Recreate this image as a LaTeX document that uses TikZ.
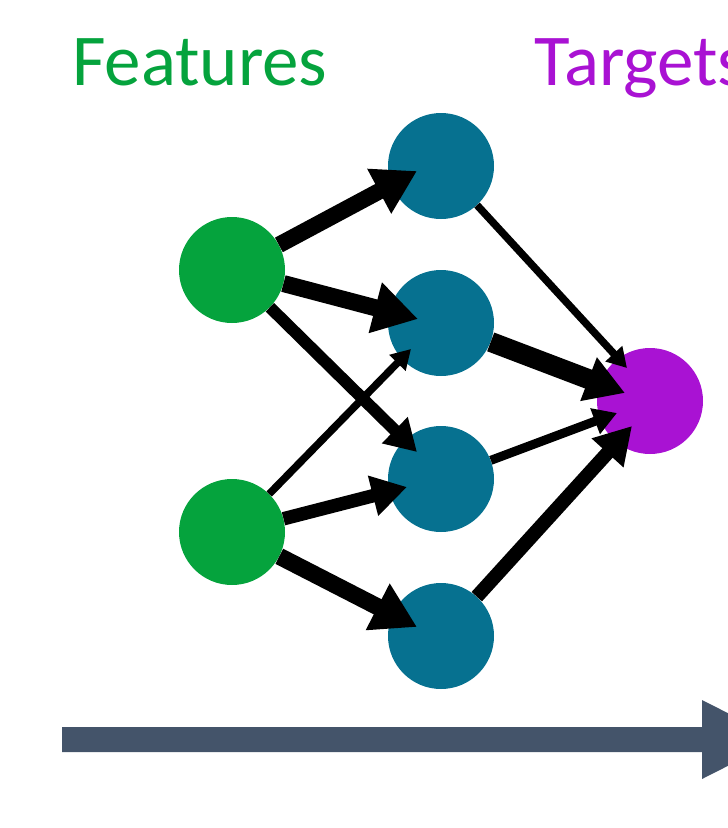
\documentclass[tikz,border=0pt]{standalone}
\usepackage{fontspec}
\setmainfont{Carlito}
\usetikzlibrary{arrows.meta}
\definecolor{featgreen}{HTML}{05A33D}
\definecolor{hidblue}{HTML}{067190}
\definecolor{targpurple}{HTML}{A912D3}
\definecolor{slate}{HTML}{44546A}
\begin{document}
\begin{tikzpicture}[x=1pt,y=-1pt,
  unit/.style={circle,draw=none,inner sep=0pt,minimum size=106pt},
  feat/.style={unit,fill=featgreen},
  hid/.style={unit,fill=hidblue},
  targ/.style={unit,fill=targpurple},
  wt/.style={line width=#1,-{Triangle[width=0pt 2.9,length=0pt 2.6]}},
  title/.style={anchor=base west,inner sep=0pt,font=\fontsize{73}{80}\selectfont}]
\useasboundingbox (0,0) rectangle (728,828);
\clip (0,0) rectangle (728,828);

% headings
\node[title,text=featgreen] (featlabel) at (72,85) {Features};
\node[title,text=targpurple] (targlabel) at (534,85) {Targets};

% units
\node[feat] (g1) at (232,270) {};
\node[feat] (g2) at (232,532) {};
\node[hid] (b1) at (441,166) {};
\node[hid] (b2) at (441,323) {};
\node[hid] (b3) at (441,479) {};
\node[hid] (b4) at (441,636) {};
\node[targ] (p) at (650,401) {};

% arrow tips
\coordinate (t11) at (417,171);
\coordinate (t12) at (418,319);
\coordinate (t13) at (417,452);
\coordinate (t22) at (411,349);
\coordinate (t23) at (407,487);
\coordinate (t24) at (417,627);
\coordinate (tp1) at (627,368);
\coordinate (tp2) at (625,393);
\coordinate (tp3) at (617,413);
\coordinate (tp4) at (632,426);

% weighted connections
\draw[wt=16.5pt] (g1) -- (t11);
\draw[wt=17pt]   (g1) -- (t12);
\draw[wt=12pt]   (g1) -- (t13);
\draw[wt=7.5pt]  (g2) -- (t22);
\draw[wt=13.5pt] (g2) -- (t23);
\draw[wt=17pt]   (g2) -- (t24);
\draw[wt=7.5pt]  (b1) -- (tp1);
\draw[line width=20pt,-{Triangle[width=44pt,length=39pt]}] (b2) -- (tp2);
\draw[wt=9pt]    (b3) -- (tp3);
\draw[wt=14pt]   (b4) -- (tp4);

% time axis
\fill[slate] (62,727) -- (702,727) -- (702,700) -- (780,739.5)
  -- (702,779) -- (702,752) -- (62,752) -- cycle;
\end{tikzpicture}
\end{document}
